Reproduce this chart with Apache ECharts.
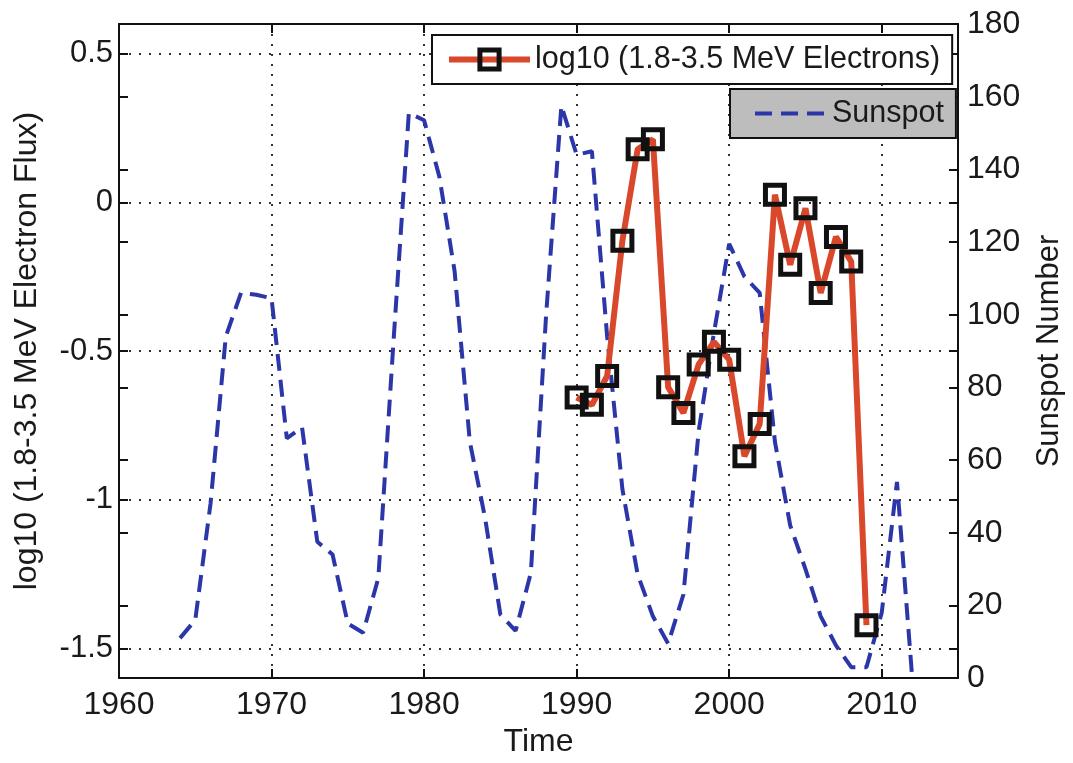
<!DOCTYPE html>
<html>
<head>
<meta charset="utf-8">
<script src="https://cdn.jsdelivr.net/npm/echarts@6.0.0/dist/echarts.min.js"></script>
<style>
html,body{margin:0;padding:0;background:#ffffff;}
#chart{width:1073px;height:763px;}
</style>
</head>
<body>
<div id="chart"></div>
<script>
// ---- data ----
const electronYears = [1990,1991,1992,1993,1994,1995,1996,1997,1998,1999,2000,2001,2002,2003,2004,2005,2006,2007,2008,2009];
const electronFlux  = [-0.656,-0.681,-0.584,-0.129,0.179,0.212,-0.622,-0.708,-0.545,-0.469,-0.529,-0.854,-0.745,0.026,-0.21,-0.02,-0.305,-0.116,-0.199,-1.422];

const sunspotYears = [1964,1965,1966,1967,1968,1969,1970,1971,1972,1973,1974,1975,1976,1977,1978,1979,1980,1981,1982,1983,1984,1985,1986,1987,1988,1989,1990,1991,1992,1993,1994,1995,1996,1997,1998,1999,2000,2001,2002,2003,2004,2005,2006,2007,2008,2009,2010,2011,2012];
const sunspotNumbers = [11,16,48,94,106,105.5,104.5,66,69,37.5,34,15,12.5,27.5,93,155.5,153.5,138,112,65,44,17.5,13,29,100,157.5,144,145,94,52,28.5,17,9.5,23,68,95,119.5,110.5,106,65,42,30,17,9,3,3,18,54,0];

const xTickValues = [1960,1970,1980,1990,2000,2010];
const leftTickValues = [-1.5,-1,-0.5,0,0.5];
const electronName = 'log10 (1.8-3.5 MeV Electrons)';
const sunspotName = 'Sunspot';
const xTitle = 'Time';
const leftTitle = 'log10 (1.8-3.5 MeV Electron Flux)';
const rightTitle = 'Sunspot Number';

// ---- chart ----
const FONT = '"Liberation Sans", Arial, Helvetica, sans-serif';
const TXT = '#1a1a1a';
const dotted = {type: [2, 8], width: 2, color: '#333'};
const TRANSPARENT = 'rgba(0,0,0,0)';

const chart = echarts.init(document.getElementById('chart'), null, {renderer: 'canvas'});
chart.setOption({
  animation: false,
  backgroundColor: '#ffffff',
  textStyle: {fontFamily: FONT},
  grid: {left: 119, right: 106, top: 24, bottom: 82, containLabel: false},
  legend: [
    {
      data: [electronName],
      left: 432, top: 35,
      orient: 'horizontal',
      backgroundColor: '#ffffff',
      borderColor: '#111', borderWidth: 2,
      padding: [9, 12, 9, 14],
      itemWidth: 81, itemHeight: 24,
      itemStyle: {borderWidth: 5},
      lineStyle: {width: 6},
      textStyle: {fontSize: 30.5, color: TXT, fontFamily: FONT},
      selectedMode: false
    },
    {
      data: [sunspotName],
      left: 730, top: 89,
      backgroundColor: '#bdbdbd',
      borderColor: '#111', borderWidth: 2,
      padding: [9, 12, 9, 23],
      itemWidth: 72, itemHeight: 24,
      itemStyle: {color: TRANSPARENT, borderColor: TRANSPARENT, borderWidth: 0},
      lineStyle: {width: 4},
      textStyle: {fontSize: 30.5, color: TXT, fontFamily: FONT},
      selectedMode: false
    }
  ],
  xAxis: [
    {
      type: 'value', position: 'bottom', min: 1960, max: 2015,
      name: xTitle, nameLocation: 'middle', nameGap: 47,
      nameTextStyle: {fontSize: 32, color: TXT, fontFamily: FONT},
      axisLine: {show: true, onZero: false, lineStyle: {color: '#111', width: 2}},
      axisTick: {show: true, inside: true, length: 9, customValues: xTickValues, lineStyle: {color: '#111', width: 2}},
      axisLabel: {show: true, customValues: xTickValues, fontSize: 32, color: TXT, margin: 11, fontFamily: FONT,
                  formatter: v => String(v)},
      splitLine: {show: true, lineStyle: dotted}
    },
    {
      type: 'value', position: 'top', min: 1960, max: 2015,
      axisLine: {show: true, onZero: false, lineStyle: {color: '#111', width: 2}},
      axisTick: {show: true, inside: true, length: 9, customValues: xTickValues, lineStyle: {color: '#111', width: 2}},
      axisLabel: {show: false},
      splitLine: {show: false}
    }
  ],
  yAxis: [
    {
      type: 'value', position: 'left', min: -1.6, max: 0.6,
      name: leftTitle, nameLocation: 'middle', nameGap: 76, nameRotate: 90,
      nameTextStyle: {fontSize: 32, color: TXT, fontFamily: FONT},
      axisLine: {show: true, onZero: false, lineStyle: {color: '#111', width: 2}},
      axisTick: {show: true, inside: true, length: 9, customValues: leftTickValues, lineStyle: {color: '#111', width: 2}},
      axisLabel: {show: true, customValues: leftTickValues, fontSize: 31, color: TXT, margin: 6, fontFamily: FONT},
      splitLine: {show: true, lineStyle: dotted}
    },
    {
      type: 'value', position: 'right', min: 0, max: 180, interval: 20,
      name: rightTitle, nameLocation: 'middle', nameGap: 76, nameRotate: 90,
      nameTextStyle: {fontSize: 31, color: TXT, fontFamily: FONT},
      axisLine: {show: true, onZero: false, lineStyle: {color: '#111', width: 2}},
      axisTick: {show: true, inside: true, length: 9, lineStyle: {color: '#111', width: 2}},
      axisLabel: {show: true, fontSize: 32, color: TXT, margin: 9, fontFamily: FONT},
      splitLine: {show: false}
    },
    {
      type: 'value', position: 'left', min: 0, max: 180, interval: 20,
      axisLine: {show: false},
      axisTick: {show: true, inside: true, length: 9, lineStyle: {color: '#111', width: 2}},
      axisLabel: {show: false},
      splitLine: {show: false}
    },
    {
      type: 'value', position: 'right', min: -1.6, max: 0.6,
      axisLine: {show: false},
      axisTick: {show: true, inside: true, length: 9, customValues: leftTickValues, lineStyle: {color: '#111', width: 2}},
      axisLabel: {show: false},
      splitLine: {show: false}
    }
  ],
  series: [
    {
      name: sunspotName,
      type: 'line',
      xAxisIndex: 0, yAxisIndex: 1,
      data: sunspotYears.map((y, i) => [y, sunspotNumbers[i]]),
      showSymbol: false, symbol: 'none',
      lineStyle: {color: '#2b36a8', width: 4, type: [17, 9]},
      itemStyle: {color: '#2b36a8'},
      z: 2
    },
    {
      name: electronName,
      type: 'line',
      xAxisIndex: 0, yAxisIndex: 0,
      data: electronYears.map((y, i) => [y, electronFlux[i]]),
      symbol: 'rect', symbolSize: 19,
      lineStyle: {color: '#d9482b', width: 6},
      itemStyle: {color: TRANSPARENT, borderColor: '#111', borderWidth: 5},
      z: 3
    }
  ]
});
</script>
</body>
</html>
